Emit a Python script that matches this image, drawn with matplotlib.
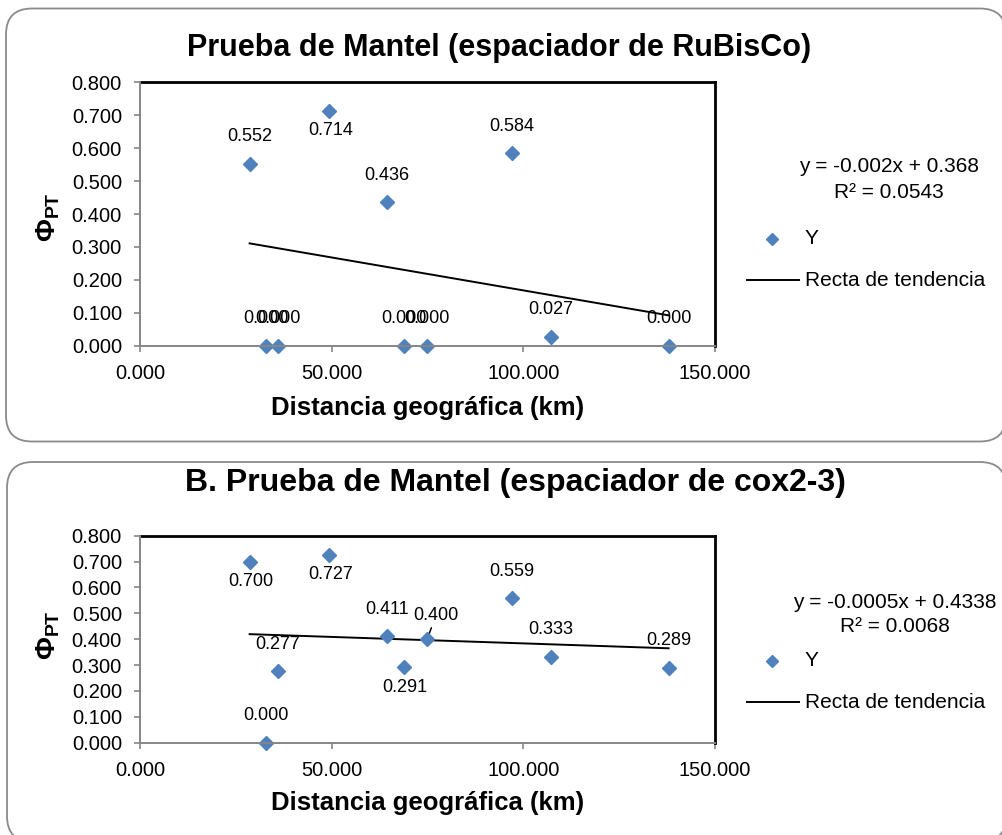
import matplotlib
matplotlib.use('Agg')
import matplotlib.pyplot as plt
from matplotlib.patches import FancyBboxPatch
from matplotlib.lines import Line2D
from matplotlib.ticker import FormatStrFormatter

plt.rcParams['font.family'] = ['Liberation Sans', 'DejaVu Sans']
plt.rcParams['mathtext.fontset'] = 'custom'
plt.rcParams['mathtext.rm'] = 'Liberation Sans'
plt.rcParams['mathtext.bf'] = 'Liberation Sans:bold'

# ---------------- data ----------------
distance_km = [28.6, 32.9, 35.9, 49.4, 64.5, 68.9, 74.9, 97.0, 107.1, 137.9]
phi_rubisco = [0.552, 0.000, 0.000, 0.714, 0.436, 0.000, 0.000, 0.584, 0.027, 0.000]
phi_cox = [0.700, 0.000, 0.277, 0.727, 0.411, 0.291, 0.400, 0.559, 0.333, 0.289]
trend_rubisco = (-0.002, 0.368)      # slope, intercept
trend_cox = (-0.0005, 0.4338)
r2_rubisco = 0.0543
r2_cox = 0.0068
titles = ["Prueba de Mantel (espaciador de RuBisCo)",
          "B. Prueba de Mantel (espaciador de cox2-3)"]
x_ticks = [0, 50, 100, 150]
y_ticks = [0.0, 0.1, 0.2, 0.3, 0.4, 0.5, 0.6, 0.7, 0.8]
x_label = "Distancia geográfica (km)"
legend_labels = ["Y", "Recta de tendencia"]

# label placement (style)
place_rubisco = ['above', 'above', 'above', 'below', 'above', 'above', 'above', 'above', 'above', 'above']
place_cox = ['below', 'above', 'above', 'below', 'above', 'below', 'leader', 'above', 'above', 'above']

BLUE = '#4F81BD'
GRID_GRAY = '#868686'
BOX_GRAY = '#8a8a8a'

W, H = 1003, 835
fig = plt.figure(figsize=(W / 100, H / 100), dpi=100)

bg = fig.add_axes([0, 0, 1, 1], zorder=-1)
bg.set_xlim(0, W)
bg.set_ylim(H, 0)
bg.axis('off')

bg.add_patch(FancyBboxPatch((6, 8.5), 1000, 433, boxstyle="round,pad=0,rounding_size=26",
                            ec=BOX_GRAY, fc='white', lw=1.3))
bg.add_patch(FancyBboxPatch((7, 462), 999, 380, boxstyle="round,pad=0,rounding_size=26",
                            ec=BOX_GRAY, fc='white', lw=1.3))


def panel(rect, yvals, trend, r2, title, title_xy, title_size, places, xlab_y, ylab_y, leg):
    ax = fig.add_axes(rect)
    ax.set_facecolor('white')
    ax.set_xlim(0, 150)
    ax.set_ylim(0, 0.8)
    ax.set_xticks(x_ticks)
    ax.set_yticks(y_ticks)
    ax.xaxis.set_major_formatter(FormatStrFormatter('%.3f'))
    ax.yaxis.set_major_formatter(FormatStrFormatter('%.3f'))
    ax.tick_params(direction='out', length=4, width=1.2, color=GRID_GRAY, labelsize=14.5)
    ax.tick_params(axis='y', pad=9)
    ax.tick_params(axis='x', pad=9)
    for s in ['top', 'right']:
        ax.spines[s].set_color('black')
        ax.spines[s].set_linewidth(2.0)
    for s in ['left', 'bottom']:
        ax.spines[s].set_color(GRID_GRAY)
        ax.spines[s].set_linewidth(1.4)
        ax.spines[s].set_zorder(5)

    ax.plot(distance_km, yvals, linestyle='none', marker='D', markersize=6.8,
            color=BLUE, markeredgecolor=BLUE, zorder=4, clip_on=False)
    xs = [min(distance_km), max(distance_km)]
    ax.plot(xs, [trend[0] * x + trend[1] for x in xs], color='black', lw=1.4, zorder=3)

    for x, y, p in zip(distance_km, yvals, places):
        lab = f"{y:.3f}"
        if p == 'above':
            ax.annotate(lab, (x, y), xytext=(0, 27), textcoords='offset pixels',
                        ha='center', va='center', fontsize=13)
        elif p == 'below':
            ax.annotate(lab, (x, y), xytext=(1, -20), textcoords='offset pixels',
                        ha='center', va='center', fontsize=13)
        else:
            ax.annotate(lab, (x, y), xytext=(9, 24), textcoords='offset pixels',
                        ha='center', va='center', fontsize=13,
                        arrowprops=dict(arrowstyle='-', color='black', lw=1.1,
                                        shrinkA=1, shrinkB=0))

    ax.set_xlabel(x_label, fontsize=18.5, fontweight='bold', va='center')
    ax.xaxis.set_label_coords(0.5, xlab_y)
    ax.set_ylabel(r'$\mathbf{\Phi_{PT}}$', fontsize=20, rotation=90, va='center', ha='center')
    ax.yaxis.set_label_coords(-0.16, ylab_y)

    fig.text(title_xy[0] / W, 1 - title_xy[1] / H, title, ha='center', va='center',
             fontsize=title_size, fontweight='bold')

    # legend block (pixel coordinates on background)
    eq_x, eq_y1, eq_y2, mk_y, ln_y = leg
    bg.text(eq_x, eq_y1, f"y = {trend[0]}x + {trend[1]}", ha='center', va='center', fontsize=15)
    bg.text(eq_x, eq_y2, f"R² = {r2}", ha='center', va='center', fontsize=15)
    bg.add_line(Line2D([772], [mk_y], marker='D', markersize=6.5, color=BLUE, linestyle='none'))
    bg.text(805, mk_y, legend_labels[0], ha='left', va='center', fontsize=15)
    bg.add_line(Line2D([747, 799], [ln_y, ln_y], color='black', lw=1.4))
    bg.text(805, ln_y, legend_labels[1], ha='left', va='center', fontsize=15)
    return ax


panel([140 / W, 1 - 345.7 / H, 575 / W, 263.4 / H], phi_rubisco, trend_rubisco, r2_rubisco,
      titles[0], (499, 48), 22, place_rubisco, -0.2365, 0.49, (889, 167, 192, 239, 280))
panel([140 / W, 1 - 742.7 / H, 575 / W, 207 / H], phi_cox, trend_cox, r2_cox,
      titles[1], (515, 483), 23, place_cox, -0.2913, 0.52, (895, 603, 627, 661, 702))

fig.savefig('out.png', dpi=100)
